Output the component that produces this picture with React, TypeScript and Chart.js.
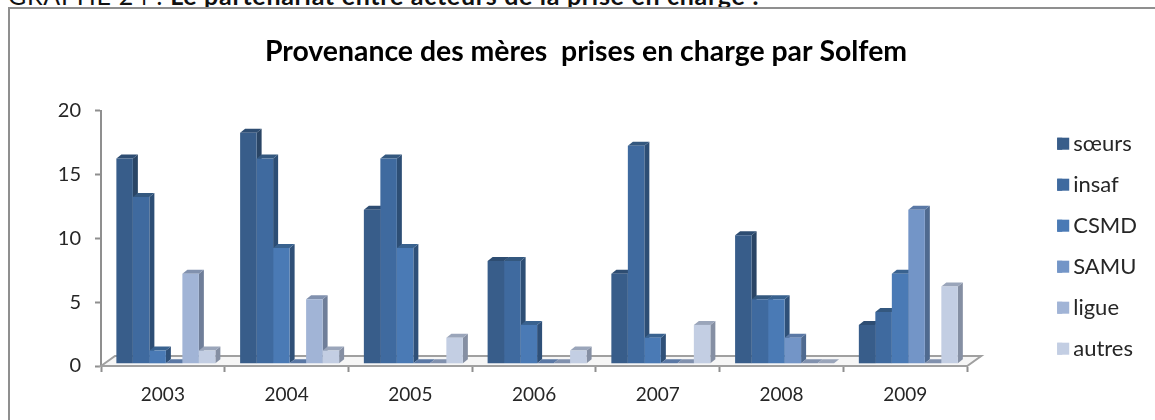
import React, { useEffect, useRef } from "react";
import { Chart, registerables } from "chart.js";

Chart.register(...registerables);

const years = ["2003", "2004", "2005", "2006", "2007", "2008", "2009"];
const soeurs = [16, 18, 12, 8, 7, 10, 3];
const insaf = [13, 16, 16, 8, 17, 5, 4];
const csmd = [1, 9, 9, 3, 2, 5, 7];
const samu = [0, 0, 0, 0, 0, 2, 12];
const ligue = [7, 5, 0, 0, 0, 0, 0];
const autres = [1, 1, 2, 1, 3, 0, 6];

const seriesNames = ["sœurs", "insaf", "CSMD", "SAMU", "ligue", "autres"];
const seriesValues = [soeurs, insaf, csmd, samu, ligue, autres];
const frontColors = ["#385D8A", "#3F6A9F", "#4A7AB5", "#7395C7", "#A1B4D6", "#C3CEE3"];
const sideColors = ["#2A4565", "#2D4E75", "#2F5078", "#4F6A90", "#6F7E99", "#858FA3"];
const topColors = ["#2E4D72", "#34587F", "#39628F", "#5A78A5", "#8191AE", "#9AA5BA"];

const FONT = "Lato, 'Open Sans', sans-serif";
const TEXT = "#262626";
const AXIS = "#8f8f8f";
const DEPTH_X = 5;
const DEPTH_Y = 4;
const SHIFT_X = 3;
const FLOOR_X = 14;
const FLOOR_Y = 10;

const threeD = {
  id: "threeD",
  beforeDatasetsDraw(chart: any) {
    const { ctx, chartArea: a } = chart;
    ctx.save();
    ctx.beginPath();
    ctx.moveTo(a.left, a.bottom);
    ctx.lineTo(a.left + FLOOR_X, a.bottom - FLOOR_Y);
    ctx.lineTo(a.right + FLOOR_X, a.bottom - FLOOR_Y);
    ctx.lineTo(a.right, a.bottom);
    ctx.closePath();
    ctx.fillStyle = "#f6f6f6";
    ctx.fill();
    ctx.strokeStyle = "#a0a0a0";
    ctx.lineWidth = 2;
    ctx.stroke();
    ctx.restore();

    ctx.save();
    ctx.translate(SHIFT_X, 0);
    seriesValues.forEach((_, i) => {
      const meta = chart.getDatasetMeta(i);
      meta.data.forEach((bar: any) => {
        const l = bar.x - bar.width / 2;
        const r = bar.x + bar.width / 2;
        const t = bar.y;
        const b = bar.base;
        ctx.fillStyle = sideColors[i];
        ctx.beginPath();
        ctx.moveTo(r, t);
        ctx.lineTo(r + DEPTH_X, t - DEPTH_Y);
        ctx.lineTo(r + DEPTH_X, b - DEPTH_Y);
        ctx.lineTo(r, b);
        ctx.closePath();
        ctx.fill();
        ctx.fillStyle = topColors[i];
        ctx.beginPath();
        ctx.moveTo(l, t);
        ctx.lineTo(l + DEPTH_X, t - DEPTH_Y);
        ctx.lineTo(r + DEPTH_X, t - DEPTH_Y);
        ctx.lineTo(r, t);
        ctx.closePath();
        ctx.fill();
      });
    });
    ctx.restore();
    ctx.save();
    ctx.translate(SHIFT_X, 0);
  },
  afterDatasetsDraw(chart: any) {
    chart.ctx.restore();
  },
  afterDraw(chart: any) {
    const { ctx, legend } = chart;
    ctx.save();
    legend.legendHitBoxes.forEach((hb: any, i: number) => {
      ctx.fillStyle = frontColors[i];
      ctx.fillRect(hb.left, hb.top + hb.height / 2 - 6, 12, 12);
    });
    ctx.restore();
  },
};

export default function App() {
  const ref = useRef<HTMLCanvasElement>(null);
  useEffect(() => {
    document.body.style.margin = "0";
    document.body.style.overflow = "hidden";
    const chart = new Chart(ref.current as HTMLCanvasElement, {
      type: "bar",
      data: {
        labels: years,
        datasets: seriesNames.map((name, i) => ({
          label: name,
          data: seriesValues[i],
          backgroundColor: frontColors[i],
          borderWidth: 0,
          yAxisID: "y2",
          clip: false,
          categoryPercentage: 0.8,
          barPercentage: 1,
        })),
      } as any,
      options: {
        animation: false,
        responsive: false,
        layout: { autoPadding: false, padding: { left: 25, right: 8, top: 0, bottom: 0 } },
        plugins: {
          tooltip: { enabled: false },
          title: {
            display: true,
            text: "Provenance des mères  prises en charge par Solfem",
            color: "#000",
            font: { family: FONT, size: 28.4, weight: "bold", lineHeight: 1.2 },
            padding: { top: 35, bottom: 41.9 },
          },
          legend: {
            position: "right",
            title: { display: true, text: "", padding: 29, font: { size: 12 } },
            labels: {
              boxWidth: 5,
              boxHeight: 12,
              padding: 19,
              color: TEXT,
              font: { family: FONT, size: 22 },
            },
          },
        },
        scales: {
          x: {
            afterFit: (s: any) => { s.height = 54; },
            grid: { drawOnChartArea: false, tickLength: 6, tickColor: AXIS, tickWidth: 2 },
            border: { color: AXIS, width: 2 },
            ticks: { color: TEXT, padding: 11, font: { family: FONT, size: 19 }, maxRotation: 0 },
          },
          y: {
            position: "left",
            min: 0,
            max: 20,
            afterFit: (s: any) => { s.width = 76; },
            grid: { drawOnChartArea: false, tickLength: 6, tickColor: AXIS, tickWidth: 2 },
            border: { color: AXIS, width: 2 },
            ticks: { stepSize: 5, color: TEXT, padding: 14, font: { family: FONT, size: 20 } },
          },
          y2: {
            position: "right",
            display: true,
            min: -0.21,
            max: 19.71,
            afterFit: (s: any) => { s.width = 71; },
            grid: { display: false },
            border: { display: false },
            ticks: { display: false },
          },
        },
      } as any,
      plugins: [threeD],
    });
    return () => chart.destroy();
  }, []);

  return (
    <div style={{ position: "relative", width: 1155, height: 420, overflow: "hidden", background: "#fff" }}>
      <div
        style={{
          position: "absolute",
          left: 8,
          top: -20,
          whiteSpace: "nowrap",
          fontFamily: FONT,
          fontSize: 25,
          letterSpacing: 0.7,
          color: "#111",
        }}
      >
        GRAPHE 24 : <b>Le partenariat entre acteurs de la prise en charge :</b>
      </div>
      <div
        style={{
          position: "absolute",
          left: 8,
          top: 7,
          right: -10,
          bottom: -10,
          borderLeft: "2px solid #8f8f8f",
          borderTop: "2px solid #8f8f8f",
        }}
      />
      <canvas ref={ref} width={1155} height={420} style={{ position: "absolute", left: 0, top: 0 }} />
    </div>
  );
}
